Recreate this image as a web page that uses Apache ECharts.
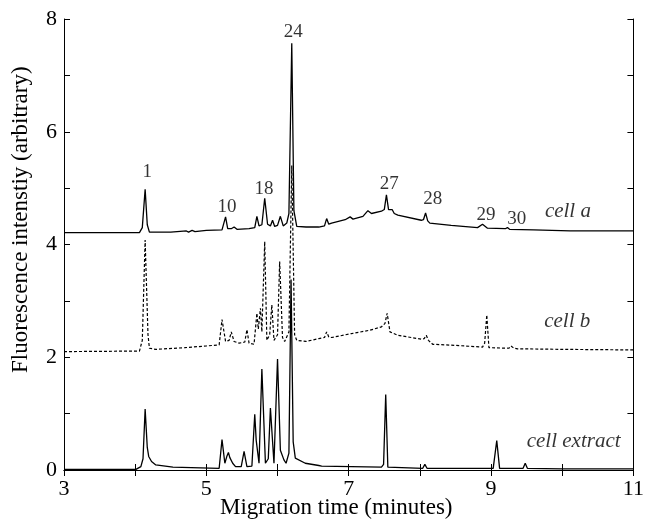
<!DOCTYPE html>
<html>
<head>
<meta charset="utf-8">
<script src="https://cdn.jsdelivr.net/npm/echarts@6/dist/echarts.min.js"></script>
<style>
  html, body { margin: 0; padding: 0; background: #fff; }
  #chart { width: 647px; height: 521px; }
</style>
</head>
<body>
<div id="chart"></div>
<script>
// traces, [minutes, intensity]
const cellA = [
  [3.0, 4.21], [4.06, 4.21], [4.10, 4.30], [4.14, 4.98], [4.17, 4.35], [4.20, 4.22],
  [4.50, 4.22], [4.72, 4.24], [4.75, 4.22], [4.80, 4.25], [4.84, 4.23], [5.0, 4.25],
  [5.22, 4.26], [5.27, 4.49], [5.30, 4.28], [5.35, 4.28], [5.39, 4.31], [5.43, 4.27],
  [5.60, 4.28], [5.68, 4.30], [5.71, 4.50], [5.74, 4.33], [5.78, 4.35], [5.82, 4.82],
  [5.86, 4.36], [5.90, 4.33], [5.93, 4.43], [5.96, 4.32], [6.00, 4.34], [6.04, 4.50],
  [6.08, 4.33], [6.13, 4.38], [6.16, 4.55], [6.20, 7.57], [6.23, 4.60], [6.27, 4.32],
  [6.40, 4.31], [6.58, 4.31], [6.66, 4.33], [6.69, 4.46], [6.72, 4.36], [6.76, 4.38],
  [6.95, 4.44], [7.02, 4.49], [7.06, 4.45], [7.20, 4.50], [7.27, 4.60], [7.32, 4.55],
  [7.46, 4.59], [7.50, 4.62], [7.53, 4.88], [7.56, 4.62], [7.58, 4.60], [7.61, 4.62],
  [7.64, 4.55], [7.69, 4.52], [8.02, 4.43], [8.05, 4.44], [8.08, 4.56], [8.11, 4.42],
  [8.14, 4.38], [8.44, 4.34], [8.81, 4.30], [8.88, 4.36], [8.95, 4.29], [9.20, 4.28],
  [9.23, 4.30], [9.26, 4.27], [9.60, 4.26], [10.11, 4.24], [11.0, 4.24]
];
const cellB = [
  [3.0, 2.10], [4.06, 2.11], [4.10, 2.30], [4.14, 4.08], [4.18, 2.40], [4.20, 2.16],
  [4.29, 2.14], [4.70, 2.17], [5.00, 2.20], [5.18, 2.22], [5.22, 2.67], [5.27, 2.28],
  [5.32, 2.30], [5.35, 2.45], [5.39, 2.28], [5.46, 2.25], [5.54, 2.27], [5.57, 2.49],
  [5.60, 2.25], [5.67, 2.23], [5.71, 2.78], [5.73, 2.50], [5.76, 2.87], [5.78, 2.45],
  [5.82, 4.05], [5.85, 2.30], [5.89, 2.40], [5.92, 2.93], [5.95, 2.30], [6.00, 2.40],
  [6.03, 3.70], [6.07, 2.35], [6.10, 2.28], [6.16, 2.45], [6.20, 5.40], [6.24, 2.40],
  [6.27, 2.30], [6.40, 2.28], [6.58, 2.33], [6.66, 2.35], [6.69, 2.45], [6.72, 2.36],
  [6.76, 2.35], [7.04, 2.42], [7.30, 2.48], [7.46, 2.54], [7.51, 2.60], [7.54, 2.78],
  [7.58, 2.45], [7.69, 2.39], [8.02, 2.32], [8.06, 2.33], [8.09, 2.39], [8.12, 2.30],
  [8.18, 2.23], [8.50, 2.21], [8.88, 2.18], [8.91, 2.25], [8.94, 2.75], [8.97, 2.17],
  [9.25, 2.16], [9.28, 2.20], [9.32, 2.16], [9.37, 2.15], [10.0, 2.14], [11.0, 2.13]
];
const cellExtract = [
  [3.0, 0.01], [4.01, 0.01], [4.08, 0.06], [4.11, 0.20], [4.14, 1.08], [4.17, 0.40],
  [4.19, 0.24], [4.23, 0.15], [4.29, 0.09], [4.53, 0.05], [5.18, 0.03], [5.22, 0.54],
  [5.26, 0.12], [5.29, 0.25], [5.31, 0.31], [5.33, 0.22], [5.35, 0.24], [5.37, 0.12],
  [5.41, 0.06], [5.49, 0.06], [5.53, 0.33], [5.57, 0.06], [5.64, 0.07], [5.68, 0.99],
  [5.70, 0.53], [5.72, 0.55], [5.74, 0.12], [5.78, 1.79], [5.83, 0.12], [5.87, 0.20],
  [5.90, 1.10], [5.95, 0.12], [6.00, 1.97], [6.04, 0.35], [6.09, 0.18], [6.12, 0.12],
  [6.16, 0.30], [6.19, 3.38], [6.22, 0.50], [6.25, 0.21], [6.39, 0.12], [6.58, 0.08],
  [6.60, 0.10], [6.62, 0.07], [7.46, 0.05], [7.49, 0.10], [7.52, 1.34], [7.55, 0.05],
  [8.04, 0.03], [8.07, 0.10], [8.10, 0.03], [9.03, 0.03], [9.08, 0.52], [9.12, 0.03],
  [9.45, 0.03], [9.48, 0.12], [9.51, 0.03], [10.0, 0.02], [11.0, 0.02]
];

// peak numbers and trace names, placed at [minutes, intensity]
const peakNames = ['1', '10', '18', '24', '27', '28', '29', '30'];
const peakPos = [[4.17, 5.29], [5.29, 4.67], [5.81, 4.99], [6.22, 7.77],
                 [7.57, 5.08], [8.18, 4.80], [8.93, 4.53], [9.36, 4.46]];
const traceNames = ['cell a', 'cell b', 'cell extract'];
const tracePos = [[10.08, 4.58], [10.07, 2.64], [10.16, 0.50]];

const xTicks = [3, 5, 7, 9, 11];
const yTicks = [0, 2, 4, 6, 8];

const serif = '"Liberation Serif", "DejaVu Serif", serif';
const chart = echarts.init(document.getElementById('chart'));

const plainAxis = {
  type: 'value',
  interval: 1,
  axisLine: { show: true, lineStyle: { color: '#000', width: 1 } },
  axisTick: { show: true, inside: true, length: 6, lineStyle: { color: '#000' } },
  splitLine: { show: false },
  axisLabel: { show: false }
};

chart.setOption({
  animation: false,
  backgroundColor: '#fff',
  grid: { left: 64, right: 10, top: 19, bottom: 51 },
  xAxis: [
    Object.assign({}, plainAxis, {
      min: 3, max: 11, position: 'bottom',
      axisLabel: {
        show: true, color: '#000', fontFamily: serif, fontSize: 22, margin: 8,
        formatter: v => (xTicks.includes(v) ? String(v) : '')
      }
    }),
    Object.assign({}, plainAxis, { min: 3, max: 11, position: 'top' })
  ],
  yAxis: [
    Object.assign({}, plainAxis, {
      min: 0, max: 8, position: 'left',
      axisLabel: {
        show: true, color: '#000', fontFamily: serif, fontSize: 22, margin: 7,
        formatter: v => (yTicks.includes(v) ? String(v) : '')
      }
    }),
    Object.assign({}, plainAxis, { min: 0, max: 8, position: 'right' })
  ],
  graphic: [
    {
      type: 'text', left: 220, top: 496,
      style: { text: 'Migration time (minutes)', font: '23px ' + serif, fill: '#000' }
    },
    {
      type: 'text', x: 9, y: 373, rotation: Math.PI / 2,
      style: { text: 'Fluorescence intenstiy (arbitrary)', font: '23px ' + serif, fill: '#000' }
    }
  ],
  series: [
    {
      name: 'cell a', type: 'line', data: cellA, symbol: 'none',
      lineStyle: { color: '#000', width: 1.3 }
    },
    {
      name: 'cell b', type: 'line', data: cellB, symbol: 'none',
      lineStyle: { color: '#000', width: 1.2, type: [3, 2] }
    },
    {
      name: 'cell extract', type: 'line', data: cellExtract, symbol: 'none',
      lineStyle: { color: '#000', width: 1.3 }
    },
    {
      type: 'scatter', symbolSize: 0, silent: true,
      data: peakNames.map((n, i) => ({ name: n, value: peakPos[i] })),
      label: {
        show: true, position: 'inside', formatter: '{b}',
        color: '#000', fontFamily: serif, fontSize: 19
      }
    },
    {
      type: 'scatter', symbolSize: 0, silent: true,
      data: traceNames.map((n, i) => ({ name: n, value: tracePos[i] })),
      label: {
        show: true, position: 'inside', formatter: '{b}',
        color: '#000', fontFamily: serif, fontSize: 21, fontStyle: 'italic'
      }
    }
  ]
});
</script>
</body>
</html>
